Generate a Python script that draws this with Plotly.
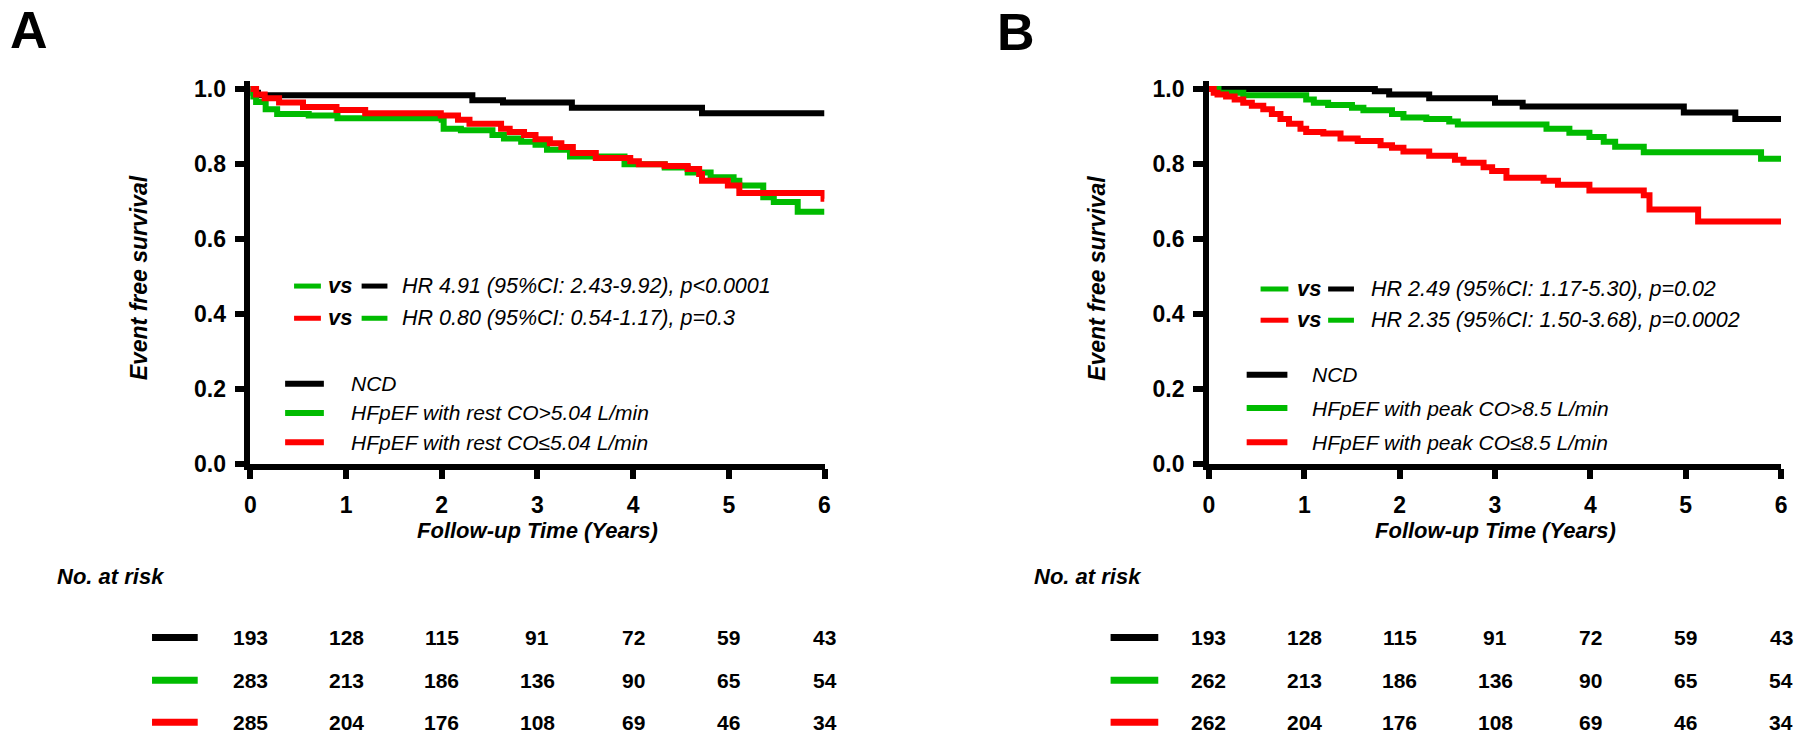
import plotly.graph_objects as go

# ---------------- data ----------------
years_ticks = [0, 1, 2, 3, 4, 5, 6]
y_ticks = [0.0, 0.2, 0.4, 0.6, 0.8, 1.0]
y_ticklabels = ["0.0", "0.2", "0.4", "0.6", "0.8", "1.0"]

A_ncd_t = [0, 0.03, 0.08, 2.32, 2.64, 3.36, 4.72, 6.0]
A_ncd_s = [1.0, 0.99, 0.983, 0.970, 0.964, 0.950, 0.935, 0.935]

A_high_t = [0, 0.02, 0.06, 0.16, 0.28, 0.61, 0.91, 2.0, 2.02, 2.2, 2.53, 2.65, 2.83, 2.98,
            3.1, 3.34, 3.91, 4.33, 4.57, 4.81, 5.05, 5.11, 5.36, 5.47, 5.72, 6.0]
A_high_s = [1.0, 0.98, 0.965, 0.946, 0.933, 0.929, 0.922, 0.918, 0.894, 0.89, 0.877, 0.868,
            0.859, 0.851, 0.838, 0.82, 0.799, 0.79, 0.777, 0.764, 0.755, 0.742, 0.711, 0.698,
            0.672, 0.672]

A_low_t = [0, 0.06, 0.15, 0.3, 0.55, 0.9, 1.2, 1.99, 2.17, 2.29, 2.62, 2.71, 2.86, 2.98, 3.13,
           3.25, 3.37, 3.61, 3.97, 4.06, 4.33, 4.57, 4.69, 4.72, 4.99, 5.11, 5.99, 6.0]
A_low_s = [1.0, 0.985, 0.975, 0.964, 0.952, 0.944, 0.935, 0.929, 0.918, 0.907, 0.894, 0.885,
           0.877, 0.866, 0.855, 0.845, 0.829, 0.816, 0.807, 0.799, 0.794, 0.786, 0.773, 0.755,
           0.742, 0.722, 0.707, 0.707]

B_ncd_t = [0, 1.74, 1.89, 2.31, 3.0, 3.29, 4.98, 5.52, 6.0]
B_ncd_s = [1.0, 0.994, 0.985, 0.975, 0.963, 0.953, 0.937, 0.92, 0.92]

B_high_t = [0, 0.1, 0.36, 1.02, 1.1, 1.25, 1.5, 1.62, 1.92, 2.04, 2.28, 2.52, 2.61, 3.54, 3.78,
            3.99, 4.14, 4.26, 4.56, 5.79, 6.0]
B_high_s = [1.0, 0.99, 0.983, 0.972, 0.963, 0.957, 0.95, 0.943, 0.933, 0.924, 0.92, 0.913, 0.905,
            0.894, 0.883, 0.872, 0.859, 0.846, 0.831, 0.814, 0.814]

B_low_t = [0, 0.05, 0.09, 0.18, 0.27, 0.36, 0.45, 0.57, 0.66, 0.75, 0.84, 0.96, 1.02, 1.2, 1.38,
           1.56, 1.8, 1.92, 2.04, 2.31, 2.58, 2.67, 2.88, 2.97, 3.12, 3.51, 3.66, 3.99, 4.56,
           4.62, 5.13, 6.0]
B_low_s = [1.0, 0.99, 0.985, 0.98, 0.972, 0.963, 0.955, 0.946, 0.933, 0.92, 0.907, 0.894, 0.885,
           0.881, 0.868, 0.861, 0.85, 0.843, 0.833, 0.822, 0.811, 0.803, 0.791, 0.781, 0.763,
           0.755, 0.744, 0.729, 0.716, 0.678, 0.646, 0.646]

A_risk_ncd = [193, 128, 115, 91, 72, 59, 43]
A_risk_high = [283, 213, 186, 136, 90, 65, 54]
A_risk_low = [285, 204, 176, 108, 69, 46, 34]
B_risk_ncd = [193, 128, 115, 91, 72, 59, 43]
B_risk_high = [262, 213, 186, 136, 90, 65, 54]
B_risk_low = [262, 204, 176, 108, 69, 46, 34]

A_labels = ["NCD", "HFpEF with rest CO&gt;5.04 L/min", "HFpEF with rest CO≤5.04 L/min"]
B_labels = ["NCD", "HFpEF with peak CO&gt;8.5 L/min", "HFpEF with peak CO≤8.5 L/min"]
A_hr = ["HR 4.91 (95%CI: 2.43-9.92), p&lt;0.0001", "HR 0.80 (95%CI: 0.54-1.17), p=0.3"]
B_hr = ["HR 2.49 (95%CI: 1.17-5.30), p=0.02", "HR 2.35 (95%CI: 1.50-3.68), p=0.0002"]

# ---------------- styling ----------------
W, H = 1800, 747
BLACK, GREEN, RED = "#000000", "#00BB00", "#FF0000"
FONT = "Liberation Sans, Arial, sans-serif"


def px(x):
    return x / W


def py(y):
    return 1 - y / H


Y_TOP = 1.02
y0_px, y1_px = 470, 86
ytop_px = y0_px - (y0_px - y1_px) * Y_TOP
ydom = [py(y0_px), py(ytop_px)]

fig = go.Figure()

panels = [
    dict(xa="x", ya="y", xdom=[px(246), px(824)],
         curves=[(A_ncd_t, A_ncd_s, BLACK), (A_high_t, A_high_s, GREEN), (A_low_t, A_low_s, RED)]),
    dict(xa="x2", ya="y2", xdom=[px(1211), px(1787)],
         curves=[(B_ncd_t, B_ncd_s, BLACK), (B_high_t, B_high_s, GREEN), (B_low_t, B_low_s, RED)]),
]

for p in panels:
    for t, s, c in p["curves"]:
        fig.add_trace(go.Scatter(x=t, y=s, mode="lines", line=dict(color=c, width=6, shape="hv"),
                                 xaxis=p["xa"], yaxis=p["ya"], showlegend=False, hoverinfo="skip"))

axis_common = dict(showgrid=False, zeroline=False, showline=True, linecolor=BLACK, linewidth=5.5,
                   ticks="outside", ticklen=10, tickwidth=5.5, tickcolor=BLACK,
                   tickfont=dict(family=FONT, size=23, color=BLACK, weight="bold"))

fig.update_layout(
    width=W, height=H, margin=dict(l=0, r=0, t=0, b=0), autosize=False,
    paper_bgcolor="white", plot_bgcolor="white",
    xaxis=dict(domain=panels[0]["xdom"], range=[0, 6], anchor="y", tickvals=years_ticks,
               ticklabelstandoff=6, **axis_common),
    yaxis=dict(domain=ydom, range=[0, Y_TOP], anchor="x", tickvals=y_ticks, ticktext=y_ticklabels,
               ticklabelstandoff=4, **axis_common),
    xaxis2=dict(domain=panels[1]["xdom"], range=[0, 6], anchor="y2", tickvals=years_ticks,
                ticklabelstandoff=6, **axis_common),
    yaxis2=dict(domain=ydom, range=[0, Y_TOP], anchor="x2", tickvals=y_ticks, ticktext=y_ticklabels,
                ticklabelstandoff=4, **axis_common),
)

ann = []
shapes = []


def text(x, y, s, size=20, bold=False, italic=False, xanchor="left", xref="paper", angle=0):
    st = s
    if italic:
        st = "<i>" + st + "</i>"
    if bold:
        st = "<b>" + st + "</b>"
    ann.append(dict(x=x, y=y, xref=xref, yref="paper", text=st, showarrow=False,
                    xanchor=xanchor, yanchor="middle", textangle=angle,
                    font=dict(family=FONT, size=size, color=BLACK)))


def seg(x0, x1, y, color, w):
    shapes.append(dict(type="line", xref="paper", yref="paper", x0=px(x0), x1=px(x1),
                       y0=py(y), y1=py(y), line=dict(color=color, width=w)))


# panel letters
ann.append(dict(x=px(2), y=py(26), xref="paper", yref="paper", text="<b>A</b>", showarrow=False,
                xanchor="left", yanchor="middle", font=dict(family=FONT, size=52, color=BLACK)))
ann.append(dict(x=px(996), y=py(28), xref="paper", yref="paper", text="<b>B</b>", showarrow=False,
                xanchor="left", yanchor="middle", font=dict(family=FONT, size=52, color=BLACK)))

configs = [
    dict(xref="x", ytitle_x=134, xtitle_x=535, risk_x=49,
         risk=[A_risk_ncd, A_risk_high, A_risk_low], bar=(147, 193),
         labels=A_labels, leg_seg=(281, 320), leg_text=345, leg_y=[388, 418, 448],
         hr=A_hr, hr_y=[288, 321], hr_pos=dict(s1=(290, 317), vs=336, s2=(358, 384), txt=397)),
    dict(xref="x2", ytitle_x=1099, xtitle_x=1499, risk_x=1033,
         risk=[B_risk_ncd, B_risk_high, B_risk_low], bar=(1112, 1160),
         labels=B_labels, leg_seg=(1249, 1290), leg_text=1313, leg_y=[379, 413, 448],
         hr=B_hr, hr_y=[291, 323], hr_pos=dict(s1=(1263, 1291), vs=1312, s2=(1331, 1357), txt=1372)),
]
colors = [BLACK, GREEN, RED]
risk_y = [648, 692, 735]

for c in configs:
    # axis titles
    text(px(c["ytitle_x"]), py(280), "Event free survival", size=23, bold=True, italic=True,
         xanchor="center", angle=-90)
    text(px(c["xtitle_x"]), py(538), "Follow-up Time (Years)", size=22, bold=True, italic=True,
         xanchor="center")
    # at-risk
    text(px(c["risk_x"]), py(586), "No. at risk", size=22, bold=True, italic=True)
    for row, col, yy in zip(c["risk"], colors, risk_y):
        seg(c["bar"][0], c["bar"][1], yy, col, 7)
        for t, n in zip(years_ticks, row):
            ann.append(dict(x=t, y=py(yy), xref=c["xref"], yref="paper", text="<b>%d</b>" % n,
                            showarrow=False, xanchor="center", yanchor="middle",
                            font=dict(family=FONT, size=21, color=BLACK)))
    # legend
    for lab, col, yy in zip(c["labels"], colors, c["leg_y"]):
        seg(c["leg_seg"][0], c["leg_seg"][1], yy, col, 6)
        text(px(c["leg_text"]), py(yy), lab, size=21, italic=True)
    # HR lines
    hp = c["hr_pos"]
    pairs = [(GREEN, BLACK), (RED, GREEN)]
    for (ca, cb), hr, yy in zip(pairs, c["hr"], c["hr_y"]):
        seg(hp["s1"][0], hp["s1"][1], yy, ca, 5)
        text(px(hp["vs"]), py(yy - 1), "vs", size=22, bold=True, italic=True, xanchor="center")
        seg(hp["s2"][0], hp["s2"][1], yy, cb, 5)
        text(px(hp["txt"]), py(yy), hr, size=21.5, italic=True)

fig.update_layout(annotations=ann, shapes=shapes)
fig.write_html("out.html", config={"displayModeBar": False},
               post_script="document.body.style.margin='0';document.body.style.overflow='hidden';")
